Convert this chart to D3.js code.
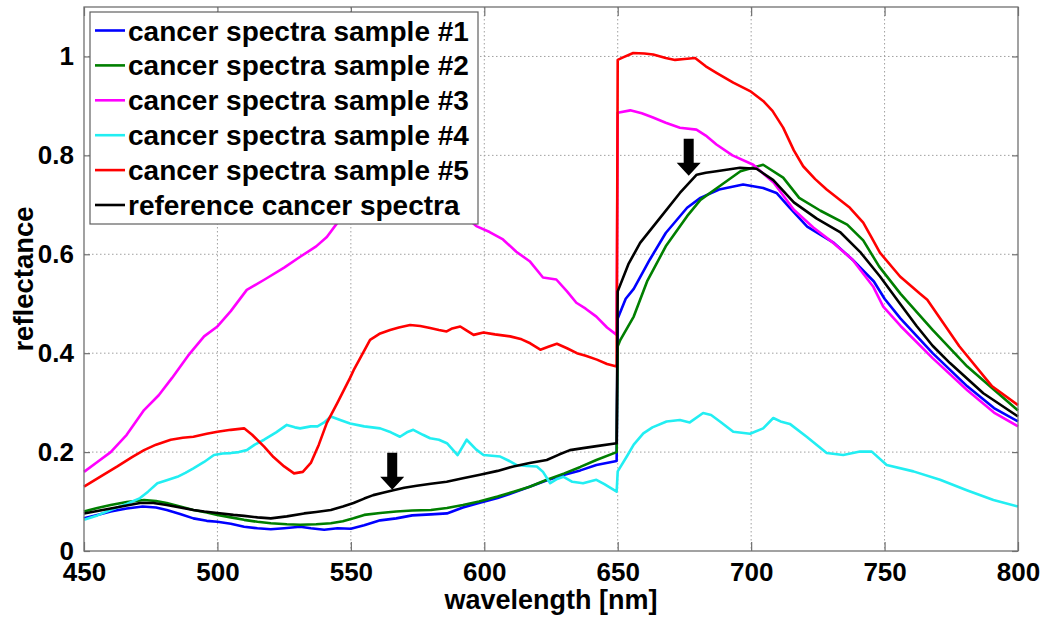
<!DOCTYPE html>
<html>
<head>
<meta charset="utf-8">
<script src="https://cdn.jsdelivr.net/npm/d3@7"></script>
<style>
	body { margin: 0; background: white; }
	svg { font-family: "Liberation Sans", Arial, sans-serif; font-weight: bold; }
</style>
</head>
<body>
<div id="chart"></div>
<script>
// spectra: [wavelength nm, reflectance]
const sample1 = [[450,.066],[455,.073],[460,.08],[466,.086],[472,.09],[477,.088],[481,.083],[486,.075],[491,.066],[496,.061],[500,.059],[505,.055],[510,.049],[515,.046],[520,.044],[525,.046],[531,.049],[535,.046],[540,.043],[545,.046],[550,.045],[555,.052],[561,.062],[567,.066],[573,.072],[580,.074],[586,.076],[592,.088],[598,.097],[605,.107],[611,.118],[617,.13],[623,.142],[630,.154],[636,.163],[642,.174],[649.6,.182],[650,.47],[653,.51],[656,.53],[662,.589],[668,.643],[676,.694],[681,.714],[688,.731],[697,.741],[704.5,.734],[709.5,.724],[714.5,.694],[721,.656],[731,.623],[738,.589],[746,.545],[750,.51],[756,.47],[768,.40],[781,.333],[791,.289],[800,.262]];
const sample2 = [[450,.08],[455,.087],[460,.093],[466,.099],[472.5,.103],[477,.101],[481,.097],[486,.09],[491,.083],[496,.078],[500,.073],[505,.068],[510,.063],[515,.059],[520,.056],[526,.054],[531,.053],[537,.054],[542.5,.056],[547,.06],[551,.066],[555,.073],[561,.077],[567,.08],[573,.082],[580,.083],[586,.087],[592,.093],[598,.1],[605,.11],[611,.12],[617,.13],[623,.143],[630,.157],[636,.17],[642,.184],[649.6,.2],[650,.414],[651,.427],[656,.474],[661,.545],[668,.616],[676,.677],[681,.71],[688,.737],[696,.768],[704.5,.781],[712,.755],[718,.714],[726,.688],[736,.66],[742,.628],[748,.575],[756,.52],[768,.447],[781,.373],[791,.326],[800,.284]];
const sample3 = [[450,.16],[455,.18],[460,.2],[466,.235],[472.5,.285],[478,.315],[483,.35],[489,.395],[495,.434],[500,.454],[505,.485],[511,.528],[518,.55],[525,.573],[531,.595],[537,.616],[541,.635],[545,.664],[552,.69],[560,.705],[570,.715],[580,.71],[590,.69],[597,.657],[602,.645],[607,.63],[612,.605],[617,.586],[622,.553],[627,.549],[631,.525],[634.5,.502],[638,.49],[642,.474],[646,.452],[649.6,.437],[650,.886],[654.7,.891],[659,.885],[663,.877],[668,.866],[673.3,.856],[679.5,.852],[683,.84],[687,.822],[693,.80],[700.8,.781],[708.4,.745],[716,.69],[723.3,.654],[730.8,.623],[738,.589],[745.7,.535],[749.5,.494],[756,.455],[768,.39],[781,.325],[791,.28],[800,.252]];
const sample4 = [[450,.063],[455,.072],[460,.083],[466,.095],[471,.107],[474,.12],[477.5,.137],[481,.143],[485,.15],[488,.158],[491,.167],[495,.18],[498.7,.194],[502,.197],[505,.198],[508,.2],[511,.204],[514,.215],[517.5,.225],[522,.24],[526,.255],[529,.25],[531,.248],[535,.252],[537.5,.252],[540,.26],[542.5,.272],[546,.265],[549.7,.258],[555,.252],[561,.248],[565,.24],[568.4,.231],[571,.24],[573.4,.245],[577,.235],[579.7,.228],[583,.225],[586,.218],[590,.194],[593.4,.225],[597,.205],[599.7,.194],[606,.191],[609,.183],[612,.174],[616,.172],[619.7,.171],[622,.16],[624.7,.137],[627,.145],[629.7,.15],[633,.14],[637,.137],[642,.144],[645,.135],[649.6,.12],[650,.161],[653.4,.191],[656,.215],[659.6,.238],[663,.25],[668.3,.262],[673.3,.265],[677,.26],[682,.279],[685,.275],[688.3,.262],[693.3,.241],[699.6,.237],[704.5,.248],[708.3,.269],[711,.262],[714.5,.257],[720.8,.231],[728.3,.198],[734.5,.194],[740.8,.201],[745.2,.201],[750.8,.174],[760.8,.161],[770.8,.144],[780.8,.123],[790.8,.103],[800,.09]];
const sample5 = [[450,.13],[456,.15],[462.5,.171],[468,.19],[472.5,.204],[477,.215],[482.5,.225],[487,.229],[491,.231],[496,.237],[500,.241],[505,.245],[510,.248],[513,.235],[517.5,.211],[521,.19],[525,.171],[528.7,.157],[532,.16],[535,.178],[538,.215],[541,.259],[545,.3],[549.7,.35],[551,.365],[554,.395],[557.2,.427],[561,.44],[564.7,.447],[568,.452],[572.2,.457],[576,.455],[579.7,.451],[583,.447],[585.9,.444],[588,.45],[591,.454],[593,.447],[596,.437],[599.7,.442],[604,.438],[609.7,.434],[614,.428],[617.2,.42],[621,.407],[624,.413],[627.2,.419],[631,.41],[634.7,.40],[638,.395],[642.2,.387],[646,.378],[649.6,.373],[650,.993],[652,.998],[655.8,1.007],[660,1.006],[663.3,1.004],[668,.997],[671.5,.993],[675,.995],[679,.997],[683,.98],[687,.967],[693.3,.947],[699.6,.93],[704.5,.91],[708,.89],[712,.856],[716,.81],[719.5,.778],[724,.752],[728.3,.731],[737,.694],[742,.664],[745,.635],[748.3,.603],[755.8,.555],[763.3,.52],[766,.508],[778,.414],[790.3,.333],[800,.295]];
const reference = [[450,.076],[455,.081],[460,.086],[466,.092],[471,.097],[476,.097],[481,.093],[486,.088],[491,.083],[495,.08],[500,.077],[506,.073],[510,.071],[515,.068],[520,.066],[526,.07],[532.5,.076],[537,.079],[542.5,.083],[547,.09],[551,.097],[555,.106],[558.4,.113],[562,.118],[565.9,.123],[570,.128],[574.7,.132],[580,.136],[585.9,.14],[592,.147],[598.4,.154],[605,.162],[610.9,.171],[617,.178],[623.4,.184],[628,.195],[632.1,.204],[637,.208],[642.1,.212],[649.6,.218],[650,.525],[654,.58],[658.4,.623],[665.8,.673],[673.3,.724],[679.6,.761],[683,.765],[687,.768],[695.8,.775],[702,.773],[708.3,.75],[716,.705],[724.6,.672],[733.3,.645],[740.8,.605],[748.3,.555],[755.8,.50],[762,.455],[768,.415],[774.5,.38],[787,.319],[800,.272]];

const seriesNames = ["cancer spectra sample #1", "cancer spectra sample #2", "cancer spectra sample #3",
	"cancer spectra sample #4", "cancer spectra sample #5", "reference cancer spectra"];
const seriesData = [sample1, sample2, sample3, sample4, sample5, reference];
const seriesColors = ["#0000ff", "#007f00", "#ff00ff", "#22eef2", "#ff0000", "#000000"];

const xTicks = [450, 500, 550, 600, 650, 700, 750, 800];
const yTicks = [0, 0.2, 0.4, 0.6, 0.8, 1];
// arrow annotations: tip wavelength and reflectance
const arrows = [[565.5, 0.124], [676.6, 0.759]];

const width = 1045, height = 618;
const margin = {top: 7, right: 27, bottom: 67, left: 84};

let svg = d3.select("#chart").append("svg")
	.attr("width", width)
	.attr("height", height);

let x = d3.scaleLinear([450, 800], [margin.left, width - margin.right]);
let y = d3.scaleLinear([0, 1.1], [height - margin.bottom, margin.top]);

// dotted grid
let grid = svg.append("g")
	.attr("stroke", "#a0a0a0")
	.attr("stroke-width", 1)
	.attr("stroke-dasharray", "1.5,2.5");
grid.selectAll(".gx")
	.data(xTicks.slice(1, -1))
	.join("line")
	.attr("class", "gx")
	.attr("x1", d => x(d)).attr("x2", d => x(d))
	.attr("y1", y(1.1)).attr("y2", y(0));
grid.selectAll(".gy")
	.data(yTicks.slice(1))
	.join("line")
	.attr("class", "gy")
	.attr("x1", x(450)).attr("x2", x(800))
	.attr("y1", d => y(d)).attr("y2", d => y(d));

// spectra
let line = d3.line()
	.x(d => x(d[0]))
	.y(d => y(d[1]));
svg.append("g")
	.attr("fill", "none")
	.attr("stroke-width", 2.6)
	.attr("stroke-linejoin", "round")
	.selectAll("path")
	.data(seriesData)
	.join("path")
	.attr("stroke", (d, i) => seriesColors[i])
	.attr("d", line);

// axes, matlab style: ticks inside on all four sides
let frame = "#707070";
svg.append("g")
	.attr("transform", `translate(0,${y(0)})`)
	.call(d3.axisBottom(x).tickValues(xTicks).tickSize(-9).tickPadding(11.5).tickFormat(d3.format("d")))
	.call(g => g.select(".domain").remove());
svg.append("g")
	.attr("transform", `translate(0,${y(1.1)})`)
	.call(d3.axisTop(x).tickValues(xTicks).tickSize(-9).tickFormat(""))
	.call(g => g.select(".domain").remove());
svg.append("g")
	.attr("transform", `translate(${x(450)},0)`)
	.call(d3.axisLeft(y).tickValues(yTicks).tickSize(-6).tickPadding(10).tickFormat(d => d === 0 || d === 1 ? d : d3.format(".1f")(d)))
	.call(g => g.select(".domain").remove());
svg.append("g")
	.attr("transform", `translate(${x(800)},0)`)
	.call(d3.axisRight(y).tickValues(yTicks).tickSize(-6).tickFormat(""))
	.call(g => g.select(".domain").remove());
svg.selectAll(".tick line").attr("stroke", frame).attr("stroke-width", 1.2);
svg.selectAll(".tick text")
	.attr("fill", "black")
	.style("font-size", "26px")
	.style("font-family", "'Liberation Sans', Arial, sans-serif")
	.style("font-weight", "bold");
svg.append("rect")
	.attr("x", x(450)).attr("y", y(1.1))
	.attr("width", x(800) - x(450)).attr("height", y(0) - y(1.1))
	.attr("fill", "none")
	.attr("stroke", frame)
	.attr("stroke-width", 1.3);

// arrows
svg.append("g")
	.selectAll("path")
	.data(arrows)
	.join("path")
	.attr("fill", "black")
	.attr("d", ([w, v]) => {
		let tx = x(w), ty = y(v);
		return `M${tx},${ty} L${tx - 12},${ty - 13} L${tx - 5},${ty - 13} L${tx - 5},${ty - 37}`
			+ ` L${tx + 5},${ty - 37} L${tx + 5},${ty - 13} L${tx + 12},${ty - 13} Z`;
	});

// axis labels
svg.append("text")
	.attr("x", (x(450) + x(800)) / 2)
	.attr("y", 609)
	.attr("text-anchor", "middle")
	.style("font-size", "27px")
	.text("wavelength [nm]");
svg.append("text")
	.attr("transform", `translate(33,${(y(0) + y(1.1)) / 2}) rotate(-90)`)
	.attr("text-anchor", "middle")
	.style("font-size", "27.5px")
	.text("reflectance");

// legend
let legend = svg.append("g");
legend.append("rect")
	.attr("x", 90).attr("y", 12)
	.attr("width", 388).attr("height", 212)
	.attr("fill", "white")
	.attr("stroke", "#606060")
	.attr("stroke-width", 1.2);
let rows = legend.selectAll("g")
	.data(seriesNames)
	.join("g")
	.attr("transform", (d, i) => `translate(0,${30.5 + i * 34.9})`);
rows.append("line")
	.attr("x1", 95).attr("x2", 125)
	.attr("stroke", (d, i) => seriesColors[i])
	.attr("stroke-width", 2.6);
rows.append("text")
	.attr("x", 128)
	.attr("y", 10)
	.style("font-size", "28px")
	.text(d => d);
</script>
</body>
</html>
